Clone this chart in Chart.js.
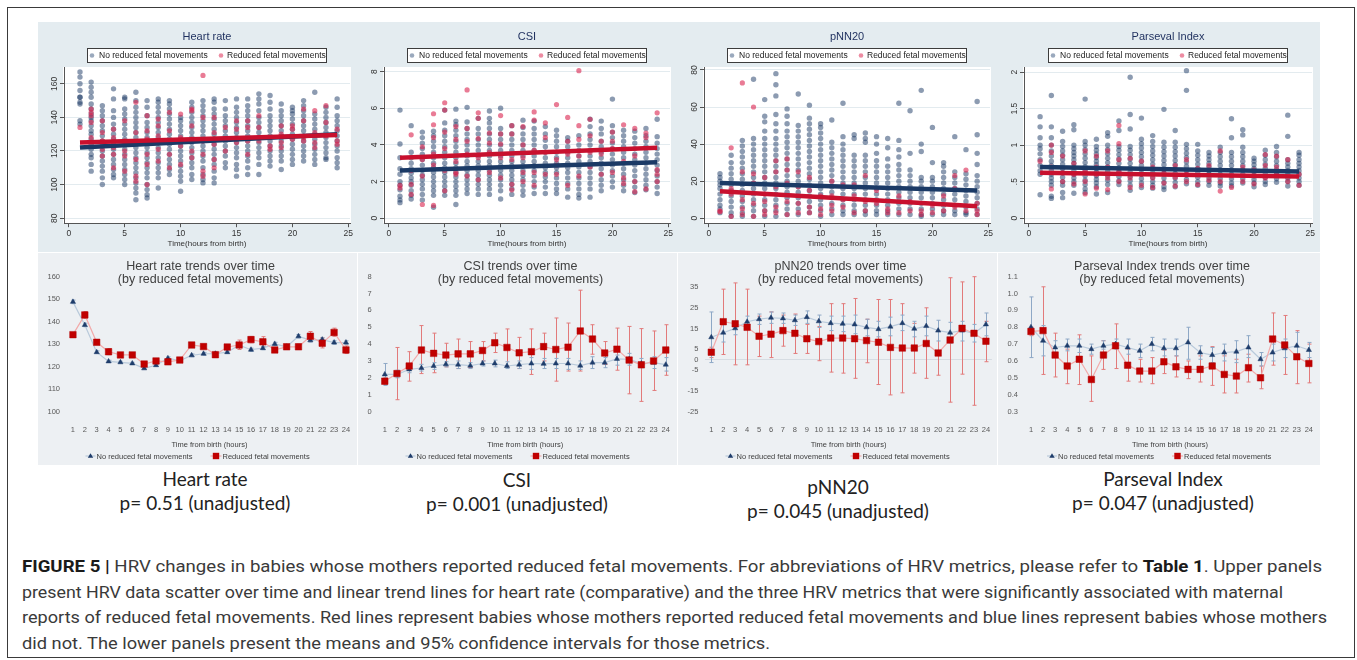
<!DOCTYPE html>
<html>
<head>
<meta charset="utf-8">
<script src="https://cdn.jsdelivr.net/npm/chart.js@4.4.1/dist/chart.umd.min.js"></script>
<style>
  body { margin: 0; width: 1357px; height: 660px; position: relative; overflow: hidden; background: #fff; font-family: 'Liberation Sans', Arial, sans-serif; }
  #frame { position: absolute; left: 7px; top: 7px; width: 1348px; height: 651px; border: 1px solid #3a3a3a; box-sizing: border-box; }
  canvas { position: absolute; }
  .plabel { position: absolute; transform: translateX(-50%); font-family: Lato, 'Open Sans', sans-serif; font-size: 19px; color: #222; text-align: center; white-space: nowrap; line-height: 24px; }
  .cap { position: absolute; left: 22px; font-family: Roboto, 'Liberation Sans', sans-serif; font-size: 17px; color: #3a3a3a; white-space: nowrap; transform-origin: 0 50%; line-height: 20px; }
  .cap b { color: #1a1a1a; }
</style>
</head>
<body>
<div id="frame"></div>

<canvas id="hrTop" width="320" height="230" style="left:38px;top:22px"></canvas>
<canvas id="csiTop" width="320" height="230" style="left:358px;top:22px"></canvas>
<canvas id="pnnTop" width="320" height="230" style="left:678px;top:22px"></canvas>
<canvas id="parTop" width="322" height="230" style="left:998px;top:22px"></canvas>

<canvas id="hrLow" width="319" height="212" style="left:38px;top:253px"></canvas>
<canvas id="csiLow" width="319" height="212" style="left:358px;top:253px"></canvas>
<canvas id="pnnLow" width="319" height="212" style="left:678px;top:253px"></canvas>
<canvas id="parLow" width="322" height="212" style="left:998px;top:253px"></canvas>

<div class="plabel" style="left:205px;top:467px">Heart rate<br>p= 0.51 (unadjusted)</div>
<div class="plabel" style="left:517px;top:468px">CSI<br>p= 0.001 (unadjusted)</div>
<div class="plabel" style="left:838px;top:475px">pNN20<br>p= 0.045 (unadjusted)</div>
<div class="plabel" style="left:1163px;top:467px">Parseval Index<br>p= 0.047 (unadjusted)</div>

<div class="cap" data-w="1300" style="top:556px"><b>FIGURE 5 |</b> HRV changes in babies whose mothers reported reduced fetal movements. For abbreviations of HRV metrics, please refer to <b>Table 1</b>. Upper panels</div>
<div class="cap" data-w="1261" style="top:582px">present HRV data scatter over time and linear trend lines for heart rate (comparative) and the three HRV metrics that were significantly associated with maternal</div>
<div class="cap" data-w="1305" style="top:607px">reports of reduced fetal movements. Red lines represent babies whose mothers reported reduced fetal movements and blue lines represent babies whose mothers</div>
<div class="cap" data-w="748" style="top:633px">did not. The lower panels present the means and 95% confidence intervals for those metrics.</div>

<script>
// ---------- shared ----------
const hours = [1, 2, 3, 4, 5, 6, 7, 8, 9, 10, 11, 12, 13, 14, 15, 16, 17, 18, 19, 20, 21, 22, 23, 24];
const fitHours = [1, 24];
const xTicksTop = [0, 5, 10, 15, 20, 25];

// ---------- upper panels: per-hour scatter values ----------
const hrTicks = [80, 100, 120, 140, 160];
const hrTickLabels = ['80', '100', '120', '140', '160'];
const hrBlue = [
  [167, 164, 160, 156, 152, 152, 149, 148, 138, 136],
  [161, 158, 155, 152, 148, 145, 142, 140, 138, 135, 132, 130, 127, 124, 121, 118, 116, 112, 108],
  [147, 144, 141, 138, 135, 132, 129, 126, 123, 120, 117, 114, 111, 108, 104, 100],
  [157, 151, 144, 140, 136, 133, 130, 127, 124, 121, 118, 115, 112, 109, 106, 104],
  [152, 151, 145, 142, 139, 136, 133, 130, 127, 124, 121, 118, 115, 112, 109, 106, 103, 100],
  [155, 150, 146, 143, 140, 137, 134, 131, 128, 125, 122, 119, 116, 113, 110, 107, 104, 101, 98, 95, 91],
  [150, 146, 141, 137, 134, 131, 128, 125, 122, 119, 116, 113, 110, 107, 104, 100, 97, 94, 92],
  [151, 149, 146, 143, 140, 137, 134, 131, 128, 125, 122, 119, 116, 113, 110, 107, 104, 98],
  [150, 148, 145, 142, 139, 136, 133, 130, 127, 124, 121, 118, 115, 112, 109, 106],
  [140, 138, 135, 132, 129, 126, 123, 120, 117, 114, 111, 108, 105, 102, 96],
  [149, 146, 143, 140, 137, 134, 131, 128, 125, 122, 119, 116, 113, 110, 106, 103],
  [150, 147, 144, 141, 138, 135, 132, 129, 126, 123, 120, 117, 114, 110, 106, 103, 101],
  [151, 149, 145, 142, 139, 136, 133, 130, 127, 124, 121, 118, 115, 112, 108, 104, 101],
  [150, 145, 141, 138, 135, 132, 129, 126, 123, 120, 117, 113, 110],
  [151, 146, 143, 140, 137, 134, 131, 128, 125, 122, 119, 116, 112, 109, 105],
  [151, 147, 144, 141, 138, 135, 132, 129, 126, 123, 120, 117, 114, 110, 106],
  [154, 151, 148, 144, 140, 137, 134, 131, 128, 125, 122, 119, 116, 112, 106],
  [153, 149, 145, 141, 138, 135, 132, 129, 126, 123, 120, 117, 114, 111],
  [148, 144, 141, 138, 135, 132, 129, 126, 123, 120, 117, 114, 109],
  [146, 144, 142, 139, 136, 133, 130, 127, 124, 121, 118, 115, 112],
  [150, 147, 144, 141, 138, 135, 132, 129, 126, 123, 120, 117, 114],
  [155, 142, 139, 136, 133, 130, 127, 124, 121, 118, 115, 112],
  [146, 143, 140, 137, 134, 131, 128, 125, 122, 119, 116, 115],
  [151, 146, 141, 138, 135, 132, 129, 126, 123, 120, 116, 113, 110]
];
const hrRed = [
  [134], [145, 143, 141, 137, 128], [138, 131, 126, 121, 117], [133, 128, 122, 118, 110],
  [138, 126, 120, 117, 108], [149, 131, 125, 115, 105, 102], [141, 132, 127, 118, 112, 100],
  [139, 135, 129, 121, 114], [143, 132, 126, 118, 110], [142, 128, 123, 112],
  [145, 144, 135, 127, 120, 116], [165, 140, 126, 118, 108, 105], [140, 131, 124, 115, 110],
  [134, 127, 120], [138, 133, 125], [138, 134, 126, 118], [141, 134, 126], [128, 123, 121],
  [135, 130, 125, 122], [135, 133, 127], [145, 138, 128, 126], [144, 131, 125, 122],
  [147, 137, 129], [133, 126, 124]
];
const hrFitBlue = [122, 130];
const hrFitRed = [125, 129.5];

const csiTicks = [0, 2, 4, 6, 8];
const csiTickLabels = ['0', '2', '4', '6', '8'];
const csiBlue = [
  [5.9, 4.05, 3.3, 2.7, 2.4, 2.0, 1.8, 1.55, 1.2, 1.0, 0.85],
  [5.05, 3.6, 3.3, 3.0, 2.7, 2.45, 2.2, 2.0, 1.8, 1.5, 1.25, 1.05],
  [4.7, 4.4, 4.1, 3.8, 3.5, 3.2, 2.9, 2.6, 2.35, 2.1, 1.85, 1.6, 1.3, 1.0],
  [4.75, 4.5, 4.2, 3.9, 3.6, 3.3, 3.0, 2.75, 2.5, 2.25, 2.0, 1.75, 1.5, 1.25, 0.6],
  [5.9, 5.2, 4.8, 4.5, 4.2, 3.9, 3.6, 3.3, 3.0, 2.75, 2.5, 2.25, 2.0, 1.75, 1.5, 1.25],
  [5.95, 5.3, 5.1, 4.8, 4.5, 4.2, 3.9, 3.6, 3.3, 3.0, 2.75, 2.5, 2.25, 2.0, 1.75, 1.5, 1.25, 0.75],
  [6.05, 5.25, 4.9, 4.6, 4.3, 4.0, 3.7, 3.4, 3.1, 2.85, 2.6, 2.35, 2.1, 1.85, 1.6, 1.35],
  [5.45, 4.9, 4.6, 4.3, 4.0, 3.7, 3.4, 3.1, 2.85, 2.6, 2.35, 2.1, 1.85, 1.6, 1.3],
  [5.85, 5.45, 5.2, 4.9, 4.6, 4.3, 4.0, 3.7, 3.4, 3.1, 2.85, 2.6, 2.35, 2.1, 1.85, 1.6, 1.3],
  [6.0, 4.9, 4.6, 4.3, 4.0, 3.7, 3.4, 3.1, 2.85, 2.6, 2.35, 2.1, 1.8, 1.5, 1.05],
  [5.05, 4.6, 4.3, 4.0, 3.7, 3.4, 3.1, 2.85, 2.6, 2.35, 2.1, 1.85, 1.6, 1.3],
  [5.35, 4.95, 4.6, 4.3, 4.0, 3.7, 3.4, 3.1, 2.85, 2.6, 2.35, 2.1, 1.8, 1.5, 1.25],
  [5.3, 4.9, 4.6, 4.3, 4.0, 3.7, 3.4, 3.1, 2.85, 2.6, 2.3, 2.0, 1.7, 1.35],
  [5.0, 4.6, 4.25, 3.9, 3.6, 3.3, 3.0, 2.75, 2.5, 2.25, 2.0, 1.7, 1.35],
  [4.8, 4.5, 4.2, 3.9, 3.6, 3.3, 3.0, 2.75, 2.5, 2.2, 1.9, 1.6, 1.35],
  [4.4, 4.2, 3.9, 3.6, 3.3, 3.0, 2.75, 2.5, 2.2, 1.9, 1.6, 1.15],
  [4.5, 4.0, 3.7, 3.4, 3.1, 2.8, 2.5, 2.2, 1.9, 1.6, 1.3, 1.1],
  [5.4, 5.0, 4.6, 4.3, 4.0, 3.7, 3.4, 3.1, 2.8, 2.5, 2.2, 1.9, 1.6, 1.15],
  [5.3, 4.9, 4.6, 4.2, 3.9, 3.6, 3.3, 3.0, 2.7, 2.4, 2.1, 1.8, 1.5],
  [6.5, 5.05, 4.7, 4.4, 4.1, 3.8, 3.5, 3.2, 2.9, 2.6, 2.3, 2.0, 1.7],
  [4.8, 4.5, 4.2, 3.9, 3.6, 3.3, 3.0, 2.7, 2.4, 2.1, 1.8, 1.5],
  [4.75, 4.4, 4.1, 3.8, 3.5, 3.2, 2.9, 2.6, 2.3, 2.0, 1.7, 1.4],
  [4.9, 4.5, 4.2, 3.9, 3.6, 3.3, 3.0, 2.7, 2.4, 2.1, 1.8, 1.55],
  [5.4, 4.45, 4.1, 3.8, 3.5, 3.2, 2.9, 2.6, 2.3, 2.0, 1.7, 1.35]
];
const csiRed = [
  [1.8, 1.65], [4.55, 2.6, 1.85, 1.3], [3.9, 3.2, 2.3, 0.75], [5.7, 5.1, 4.4, 3.5, 2.9, 0.7],
  [6.3, 5.9, 4.7, 3.8, 2.6, 1.5], [5.0, 4.3, 3.1, 2.5, 2.4], [7.0, 4.9, 4.2, 3.5, 2.3],
  [5.75, 5.45, 4.35, 3.3, 2.1], [4.65, 4.1, 3.6, 2.5], [5.6, 4.6, 4.05, 3.3, 2.2],
  [5.05, 4.6, 3.2, 1.85, 1.55], [5.0, 4.0, 3.3, 2.5, 2.0], [5.8, 5.35, 3.7, 2.5, 1.8],
  [5.2, 4.4, 3.6, 2.4], [6.2, 3.2, 2.9, 2.4], [5.5, 4.2, 3.5, 1.8], [8.05, 5.05, 4.3, 3.4, 2.3],
  [5.4, 4.5, 3.6, 2.8], [4.2, 3.5, 2.4], [4.7, 4.2, 3.8, 2.5], [5.1, 3.1, 2.2, 1.9],
  [4.9, 3.4, 2.0, 1.45], [4.65, 4.4, 1.6], [5.75, 2.65, 2.4, 2.0]
];
const csiFitBlue = [2.6, 3.05];
const csiFitRed = [3.3, 3.85];

const pnnTicks = [0, 20, 40, 60, 80];
const pnnTickLabels = ['0', '20', '40', '60', '80'];
const pnnBlue = [
  [24, 22, 20, 18, 16, 13, 10, 7, 5, 3],
  [34, 30, 27, 24, 21, 18, 15, 12, 9, 6, 3, 1],
  [42, 39, 36, 33, 30, 27, 24, 21, 18, 15, 12, 9, 6, 3, 1],
  [75, 43, 40, 37, 34, 31, 28, 25, 22, 19, 16, 13, 10, 7, 4, 1],
  [64, 55, 52, 47, 43, 40, 37, 34, 31, 28, 25, 22, 19, 16, 13, 10, 7, 4, 1],
  [78, 72, 66, 56, 51, 47, 43, 40, 37, 34, 31, 28, 25, 22, 19, 16, 13, 10, 7, 4, 1],
  [59, 55, 51, 47, 44, 41, 38, 35, 32, 29, 26, 23, 20, 17, 14, 11, 8, 5, 2],
  [67, 50, 47, 44, 41, 38, 35, 32, 29, 26, 23, 20, 17, 14, 11, 8, 5, 2],
  [61, 54, 51, 48, 45, 42, 39, 36, 33, 30, 27, 24, 21, 18, 15, 12, 9, 6, 3],
  [51, 49, 46, 43, 40, 37, 34, 31, 28, 25, 22, 19, 16, 13, 10, 7, 4, 1],
  [53, 41, 38, 35, 32, 29, 26, 23, 20, 17, 14, 11, 8, 5, 2],
  [62, 44, 40, 37, 34, 31, 28, 25, 22, 19, 16, 13, 10, 7, 4, 2],
  [45, 43, 34, 31, 28, 25, 22, 19, 16, 13, 10, 7, 4, 2],
  [46, 43, 41, 34, 31, 28, 25, 22, 19, 16, 13, 10, 7, 4, 2],
  [44, 40, 35, 31, 28, 25, 22, 19, 16, 13, 10, 7, 4, 2],
  [43, 38, 32, 28, 25, 22, 19, 16, 13, 10, 7, 4, 2],
  [62, 42, 37, 33, 29, 26, 23, 20, 17, 14, 11, 8, 5, 2],
  [58, 35, 26, 23, 20, 17, 14, 11, 8, 5, 2],
  [69, 40, 36, 22, 20, 17, 14, 11, 8, 5, 2, 1],
  [49, 30, 22, 20, 17, 14, 11, 8, 5, 2],
  [30, 28, 25, 22, 19, 16, 13, 10, 7, 4, 2],
  [44, 25, 22, 19, 16, 13, 10, 7, 4, 2],
  [37, 24, 21, 18, 15, 12, 9, 6, 3, 2],
  [63, 45, 35, 29, 23, 20, 17, 14, 11, 8, 5, 2]
];
const pnnRed = [
  [3.5, 4], [38, 16, 13, 1], [73, 25, 10, 5, 2], [60, 24, 19, 8, 1], [22, 13, 9, 4, 2],
  [31, 25, 17, 6, 3], [32, 26, 19, 9, 2], [25, 17, 8, 3], [22, 15, 6, 3], [12, 5, 2],
  [20, 12, 7, 4], [18, 10, 6], [18, 12, 3], [23, 9, 4], [15, 8], [5, 3], [12, 3], [9, 4],
  [4, 2], [7, 3], [12, 4], [23, 16, 6], [26, 4], [8, 4, 2]
];
const pnnFitBlue = [19, 15];
const pnnFitRed = [14.5, 6.5];

const parTicks = [0, 0.5, 1, 1.5, 2];
const parTickLabels = ['0', '.5', '1', '1.5', '2'];
const parBlue = [
  [1.39, 1.25, 1.1, 1.0, 0.95, 0.88, 0.8, 0.72, 0.65, 0.6, 0.32],
  [1.68, 1.25, 1.1, 1.0, 0.92, 0.85, 0.78, 0.72, 0.66, 0.6, 0.55, 0.5, 0.45, 0.3, 0.27],
  [1.19, 1.05, 0.98, 0.92, 0.86, 0.8, 0.74, 0.68, 0.62, 0.56, 0.5, 0.45, 0.35, 0.28],
  [1.28, 1.21, 1.0, 0.95, 0.9, 0.85, 0.8, 0.75, 0.7, 0.65, 0.6, 0.55, 0.5, 0.45, 0.34],
  [1.63, 1.05, 1.0, 0.94, 0.88, 0.82, 0.76, 0.7, 0.64, 0.58, 0.52, 0.46, 0.4, 0.35],
  [1.08, 0.98, 0.93, 0.88, 0.83, 0.78, 0.73, 0.68, 0.63, 0.58, 0.53, 0.48, 0.43, 0.33],
  [1.17, 1.12, 1.0, 0.94, 0.88, 0.82, 0.76, 0.7, 0.64, 0.58, 0.52, 0.46, 0.35],
  [1.33, 1.2, 0.98, 0.93, 0.87, 0.81, 0.75, 0.69, 0.63, 0.57, 0.51, 0.46],
  [1.93, 1.42, 1.22, 0.98, 0.93, 0.87, 0.81, 0.75, 0.69, 0.63, 0.57, 0.51, 0.45, 0.38],
  [1.37, 1.08, 1.02, 0.96, 0.9, 0.84, 0.78, 0.72, 0.66, 0.6, 0.54, 0.48, 0.42],
  [1.13, 1.05, 0.98, 0.92, 0.86, 0.8, 0.74, 0.68, 0.62, 0.56, 0.5, 0.45, 0.41],
  [1.49, 1.04, 0.97, 0.91, 0.85, 0.79, 0.73, 0.67, 0.61, 0.55, 0.49, 0.43, 0.39],
  [1.2, 1.04, 0.97, 0.91, 0.85, 0.79, 0.73, 0.67, 0.61, 0.55, 0.49, 0.43],
  [2.02, 1.75, 1.01, 0.95, 0.89, 0.83, 0.77, 0.71, 0.65, 0.59, 0.53, 0.47],
  [1.01, 0.92, 0.86, 0.8, 0.74, 0.68, 0.62, 0.56, 0.5, 0.45],
  [0.9, 0.85, 0.8, 0.75, 0.7, 0.65, 0.6, 0.55, 0.5, 0.45],
  [0.97, 0.9, 0.84, 0.78, 0.72, 0.66, 0.6, 0.54, 0.48, 0.44],
  [1.36, 1.1, 0.9, 0.84, 0.78, 0.72, 0.66, 0.6, 0.54, 0.48, 0.44],
  [1.21, 1.14, 0.97, 0.9, 0.84, 0.78, 0.72, 0.66, 0.6, 0.54, 0.48],
  [0.82, 0.78, 0.73, 0.68, 0.63, 0.58, 0.53, 0.48, 0.43],
  [0.93, 0.86, 0.8, 0.74, 0.68, 0.62, 0.56, 0.5, 0.46],
  [0.98, 0.9, 0.84, 0.78, 0.72, 0.66, 0.6, 0.54, 0.49],
  [1.41, 1.12, 0.8, 0.75, 0.7, 0.65, 0.6, 0.55, 0.5, 0.44],
  [0.9, 0.86, 0.8, 0.75, 0.7, 0.65, 0.6, 0.55, 0.5, 0.45]
];
const parRed = [
  [0.78], [1.0, 0.9, 0.7, 0.4], [0.85, 0.62, 0.5], [0.75, 0.6, 0.47], [0.92, 0.65, 0.5, 0.33],
  [0.85, 0.7, 0.6, 0.41], [0.92, 0.7, 0.55, 0.39], [1.27, 1.02, 0.8, 0.65, 0.5], [0.82, 0.55, 0.42],
  [0.78, 0.6, 0.45], [0.7, 0.55, 0.42], [0.66, 0.48], [0.72, 0.56, 0.44], [0.8, 0.6, 0.5],
  [0.68, 0.46], [0.72, 0.52], [0.92, 0.5, 0.37], [0.58, 0.42], [0.7, 0.5], [0.66, 0.47],
  [0.87, 0.72, 0.55], [0.85, 0.7, 0.6], [0.8, 0.5], [0.6, 0.45]
];
const parFitBlue = [0.70, 0.64];
const parFitRed = [0.62, 0.57];

// ---------- lower panels: hourly means and 95% CI ----------
const hrLowTicks = [100, 110, 120, 130, 140, 150, 160];
const hrMeanNo = [148.8, 138.5, 126.4, 122.3, 121.9, 121.4, 119.2, 120.6, 123.7, 122.6, 125.0, 125.7, 125.7, 126.4, 129.5, 127.5, 128.2, 130.1, 128.8, 133.5, 131.7, 132.0, 130.7, 130.7];
const hrLoNo = [148.0, 137.7, 125.8, 121.8, 121.4, 120.9, 118.7, 120.1, 123.1, 122.0, 124.4, 125.1, 125.1, 125.8, 128.8, 126.8, 127.5, 129.4, 128.1, 132.7, 130.9, 131.2, 129.9, 129.9];
const hrHiNo = [149.6, 139.3, 127.0, 122.8, 122.4, 121.9, 119.7, 121.1, 124.3, 123.2, 125.6, 126.3, 126.3, 127.0, 130.2, 128.2, 128.9, 130.8, 129.5, 134.3, 132.5, 132.8, 131.5, 131.5];
const hrMeanRfm = [134.2, 143.0, 130.8, 126.6, 125.2, 125.2, 121.1, 122.5, 122.1, 122.9, 129.6, 128.9, 125.3, 128.7, 129.6, 132.0, 131.0, 127.4, 128.8, 128.8, 133.5, 130.4, 135.2, 127.4];
const hrLoRfm = [133.6, 141.5, 129.8, 125.3, 124.2, 124.3, 120.2, 121.6, 121.2, 122.0, 128.6, 128.0, 124.0, 127.6, 127.6, 130.6, 128.9, 126.5, 127.9, 127.6, 131.4, 128.3, 133.5, 125.8];
const hrHiRfm = [134.8, 144.5, 131.8, 128.0, 126.2, 126.1, 122.0, 123.4, 123.0, 123.8, 130.6, 129.8, 126.6, 129.8, 131.8, 133.4, 133.3, 128.3, 129.7, 130.0, 135.6, 132.8, 137.1, 129.2];

const csiLowTicks = [0, 1, 2, 3, 4, 5, 6, 7, 8];
const csiMeanNo = [2.2, 2.2, 2.5, 2.58, 2.7, 2.8, 2.78, 2.72, 2.85, 2.85, 2.7, 2.78, 2.85, 2.83, 2.85, 2.85, 2.72, 2.9, 2.9, 3.12, 3.1, 2.85, 2.9, 2.78];
const csiLoNo = [1.55, 2.0, 2.3, 2.4, 2.5, 2.65, 2.55, 2.55, 2.7, 2.65, 2.55, 2.55, 2.5, 2.55, 2.55, 2.5, 2.5, 2.55, 2.6, 2.75, 2.75, 2.6, 2.55, 2.4];
const csiHiNo = [2.85, 2.45, 2.7, 2.8, 2.9, 2.95, 3.0, 2.9, 3.0, 3.05, 2.95, 3.0, 3.2, 3.15, 3.15, 3.15, 3.0, 3.25, 3.2, 3.35, 3.45, 3.15, 3.25, 3.2];
const csiMeanRfm = [1.8, 2.25, 2.7, 3.65, 3.45, 3.35, 3.42, 3.42, 3.62, 4.08, 3.8, 3.48, 3.55, 3.85, 3.68, 3.82, 4.78, 4.3, 3.47, 3.7, 3.05, 2.77, 3.0, 3.65];
const csiLoRfm = [1.6, 0.7, 1.8, 2.25, 2.3, 2.65, 2.55, 2.6, 3.0, 3.5, 2.7, 2.55, 2.2, 3.0, 1.8, 2.4, 2.4, 3.4, 2.8, 2.45, 1.05, 0.6, 1.25, 2.15];
const csiHiRfm = [2.0, 3.8, 3.55, 5.1, 4.65, 4.05, 4.3, 4.15, 4.15, 4.65, 4.9, 4.4, 4.9, 4.65, 5.55, 5.25, 7.2, 5.15, 4.15, 4.95, 5.05, 4.92, 4.78, 5.15];

const pnnLowTicks = [-25, -15, -5, 5, 15, 25, 35];
const pnnMeanNo = [10.8, 13.0, 15.1, 18.3, 19.5, 20.2, 19.9, 19.0, 20.5, 18.5, 17.6, 17.3, 17.0, 15.6, 14.7, 15.9, 17.6, 14.9, 16.2, 14.0, 13.0, 14.0, 12.7, 17.0];
const pnnLoNo = [-1.4, 8.5, 12.0, 15.5, 17.0, 17.5, 17.5, 16.5, 17.5, 15.5, 14.0, 13.5, 12.5, 11.5, 11.0, 11.5, 14.0, 11.0, 11.5, 9.0, 8.0, 9.0, 8.5, 11.5];
const pnnHiNo = [23.0, 17.5, 18.5, 21.0, 22.0, 23.0, 22.5, 21.5, 23.5, 21.5, 21.0, 21.0, 21.5, 19.5, 18.5, 20.5, 21.5, 18.5, 21.0, 19.0, 18.0, 18.5, 17.0, 22.5];
const pnnMeanRfm = [3.6, 18.3, 17.3, 15.6, 11.3, 12.3, 14.0, 12.7, 10.1, 8.7, 10.4, 10.4, 10.1, 9.2, 8.4, 5.9, 5.6, 5.6, 7.8, 3.2, 9.5, 15.1, 12.7, 8.9];
const pnnLoRfm = [1.0, 2.5, -2.5, -2.5, 1.5, 1.0, 6.5, 3.0, 3.0, -0.5, -6.0, -6.5, -9.0, -1.5, -12.0, -17.0, -16.0, -6.5, -9.0, -7.5, -20.5, -7.0, -22.0, -1.0];
const pnnHiRfm = [6.0, 34.0, 37.0, 34.0, 21.0, 23.0, 21.5, 22.0, 17.0, 16.0, 27.0, 27.0, 29.5, 19.5, 29.0, 29.0, 27.0, 17.5, 25.0, 14.0, 39.5, 37.5, 40.0, 18.5];

const parLowTicks = [0.3, 0.4, 0.5, 0.6, 0.7, 0.8, 0.9, 1, 1.1];
const parMeanNo = [0.80, 0.72, 0.68, 0.69, 0.69, 0.67, 0.69, 0.70, 0.68, 0.66, 0.70, 0.675, 0.675, 0.71, 0.65, 0.635, 0.65, 0.655, 0.68, 0.61, 0.65, 0.675, 0.69, 0.665];
const parLoNo = [0.62, 0.63, 0.63, 0.66, 0.65, 0.64, 0.67, 0.67, 0.64, 0.62, 0.66, 0.63, 0.63, 0.61, 0.61, 0.59, 0.60, 0.59, 0.62, 0.57, 0.60, 0.62, 0.61, 0.62];
const parHiNo = [0.98, 0.81, 0.72, 0.73, 0.73, 0.70, 0.72, 0.73, 0.73, 0.70, 0.74, 0.73, 0.73, 0.80, 0.69, 0.68, 0.70, 0.72, 0.75, 0.65, 0.70, 0.73, 0.77, 0.71];
const parMeanRfm = [0.775, 0.78, 0.635, 0.57, 0.61, 0.49, 0.635, 0.69, 0.575, 0.54, 0.54, 0.595, 0.565, 0.55, 0.55, 0.57, 0.52, 0.51, 0.56, 0.50, 0.73, 0.695, 0.625, 0.585];
const parLoRfm = [0.75, 0.52, 0.505, 0.465, 0.46, 0.36, 0.55, 0.555, 0.48, 0.475, 0.465, 0.525, 0.505, 0.495, 0.475, 0.455, 0.41, 0.41, 0.475, 0.435, 0.575, 0.52, 0.465, 0.47];
const parHiRfm = [0.80, 1.04, 0.765, 0.67, 0.755, 0.63, 0.72, 0.82, 0.67, 0.61, 0.62, 0.665, 0.63, 0.60, 0.63, 0.685, 0.63, 0.61, 0.64, 0.57, 0.885, 0.87, 0.78, 0.70];

Chart.defaults.font.family = "'Liberation Sans', Arial, sans-serif";
Chart.defaults.animation = false;
Chart.defaults.events = [];

const FONT = "'Liberation Sans', Arial, sans-serif";

// Stata-like frame: panel background, white plot region, title, boxed legend, rotated y labels
const stataFrame = {
  id: 'stataFrame',
  beforeDraw(chart) {
    const { ctx, chartArea: a, width, height } = chart;
    ctx.save();
    ctx.fillStyle = '#e4ecf0';
    ctx.fillRect(0, 0, width, height);
    ctx.fillStyle = '#ffffff';
    ctx.fillRect(a.left - 1, a.top, a.right - a.left + 2, a.bottom - a.top);
    ctx.restore();
  },
  afterDraw(chart, args, opts) {
    const { ctx, chartArea: a } = chart;
    const cx = (a.left + a.right) / 2;
    ctx.save();
    ctx.fillStyle = '#1e2f5e';
    ctx.font = '11px ' + FONT;
    ctx.textAlign = 'center';
    ctx.textBaseline = 'middle';
    ctx.fillText(opts.title, cx, 15);

    // legend box
    ctx.fillStyle = '#ffffff';
    ctx.fillRect(cx - 120, 26, 239, 14);
    ctx.strokeStyle = '#3c3c3c';
    ctx.lineWidth = 1;
    ctx.strokeRect(cx - 120 + 0.5, 26.5, 239, 14);
    ctx.fillStyle = 'rgba(32,64,108,0.45)';
    ctx.beginPath(); ctx.arc(cx - 115, 33.5, 2.3, 0, Math.PI * 2); ctx.fill();
    ctx.fillStyle = 'rgba(222,45,85,0.55)';
    ctx.beginPath(); ctx.arc(cx + 14, 33.5, 2.3, 0, Math.PI * 2); ctx.fill();
    ctx.fillStyle = '#222';
    ctx.font = '8.5px ' + FONT;
    ctx.textAlign = 'left';
    ctx.fillText('No reduced fetal movements', cx - 108, 34);
    ctx.fillText('Reduced fetal movements', cx + 20, 34);

    // rotated y tick labels
    const y = chart.scales.y;
    ctx.fillStyle = '#333';
    ctx.textAlign = 'center';
    y.ticks.forEach((t, i) => {
      ctx.save();
      ctx.translate(a.left - 9, y.getPixelForValue(t.value));
      ctx.rotate(-Math.PI / 2);
      ctx.fillText(opts.labels[i], 0, 0);
      ctx.restore();
    });
    ctx.restore();
  }
};

// Excel-like frame: background, two-line title, legend, CI bars
const excelFrame = {
  id: 'excelFrame',
  beforeDraw(chart) {
    const { ctx, width, height } = chart;
    ctx.save();
    ctx.fillStyle = '#edf0f3';
    ctx.fillRect(0, 0, width, height);
    ctx.restore();
  },
  beforeDatasetsDraw(chart) {
    const { ctx } = chart;
    const y = chart.scales.y;
    ctx.save();
    chart.data.datasets.forEach((ds, di) => {
      const meta = chart.getDatasetMeta(di);
      ctx.strokeStyle = ds.errColor;
      ctx.lineWidth = 1;
      meta.data.forEach((pt, i) => {
        const x = Math.round(pt.x) + 0.5;
        const y1 = y.getPixelForValue(ds.errLo[i]);
        const y2 = y.getPixelForValue(ds.errHi[i]);
        ctx.beginPath();
        ctx.moveTo(x, y1); ctx.lineTo(x, y2);
        ctx.moveTo(x - 2, y1); ctx.lineTo(x + 2, y1);
        ctx.moveTo(x - 2, y2); ctx.lineTo(x + 2, y2);
        ctx.stroke();
      });
    });
    ctx.restore();
  },
  afterDraw(chart, args, opts) {
    const { ctx, width, height } = chart;
    const cx = width / 2 + 3;
    ctx.save();
    ctx.fillStyle = '#404040';
    ctx.font = '12.5px ' + FONT;
    ctx.textAlign = 'center';
    ctx.textBaseline = 'middle';
    ctx.fillText(opts.title[0], cx, 14);
    ctx.fillText(opts.title[1], cx, 27);

    const ly = height - 9;
    ctx.strokeStyle = '#b9cadb';
    ctx.lineWidth = 1.2;
    ctx.beginPath(); ctx.moveTo(cx - 115, ly); ctx.lineTo(cx - 105, ly); ctx.stroke();
    ctx.fillStyle = '#1f3d6b';
    ctx.beginPath(); ctx.moveTo(cx - 110, ly - 2.8); ctx.lineTo(cx - 107.3, ly + 1.8); ctx.lineTo(cx - 112.7, ly + 1.8); ctx.closePath(); ctx.fill();
    ctx.strokeStyle = '#f2aaaa';
    ctx.beginPath(); ctx.moveTo(cx + 10, ly); ctx.lineTo(cx + 21, ly); ctx.stroke();
    ctx.fillStyle = '#c00000';
    ctx.fillRect(cx + 12.3, ly - 3.2, 6.4, 6.4);
    ctx.fillStyle = '#404040';
    ctx.font = '7.5px ' + FONT;
    ctx.textAlign = 'left';
    ctx.fillText('No reduced fetal movements', cx - 104, ly + 0.5);
    ctx.fillText('Reduced fetal movements', cx + 22, ly + 0.5);
    ctx.restore();
  }
};

function toPoints(cols) {
  const pts = [];
  cols.forEach((vals, i) => vals.forEach(v => pts.push({ x: hours[i], y: v })));
  return pts;
}
function fitLine(vals) {
  return fitHours.map((h, i) => ({ x: h, y: vals[i] }));
}

function scatterPanel(id, title, blue, red, fitBlue, fitRed, yMin, yMax, yTicks, yLabels) {
  new Chart(document.getElementById(id), {
    type: 'scatter',
    data: {
      datasets: [
        { type: 'line', data: fitLine(fitRed), borderColor: '#c8102e', borderWidth: 4.5, pointRadius: 0, order: 1 },
        { type: 'line', data: fitLine(fitBlue), borderColor: '#1b3a66', borderWidth: 4.5, pointRadius: 0, order: 2 },
        { data: toPoints(red), backgroundColor: 'rgba(218,35,78,0.6)', borderWidth: 0, pointRadius: 2.6, order: 3 },
        { data: toPoints(blue), backgroundColor: 'rgba(26,56,100,0.5)', borderWidth: 0, pointRadius: 2.7, order: 4 }
      ]
    },
    options: {
      responsive: false,
      layout: { padding: { left: 22, top: 45, right: 8, bottom: 3 } },
      plugins: { legend: { display: false }, tooltip: { enabled: false }, stataFrame: { title: title, labels: yLabels } },
      scales: {
        x: {
          type: 'linear', min: -0.43, max: 25.15,
          afterBuildTicks: ax => { ax.ticks = xTicksTop.map(v => ({ value: v })); },
          ticks: { font: { size: 8.5 }, color: '#333', padding: 1, maxRotation: 0 },
          grid: { drawOnChartArea: false, tickLength: 4, tickColor: '#555' },
          border: { color: '#555' },
          title: { display: true, text: 'Time(hours from birth)', font: { size: 8 }, color: '#333', padding: 0 }
        },
        y: {
          min: yMin, max: yMax,
          afterBuildTicks: ax => { ax.ticks = yTicks.map(v => ({ value: v })); },
          ticks: { display: false },
          grid: { color: '#e3ebef', tickLength: 4, tickColor: '#555' },
          border: { color: '#555' }
        }
      }
    },
    plugins: [stataFrame]
  });
}

function trendPanel(id, title, yMin, yMax, yTicks, no, noLo, noHi, rfm, rfmLo, rfmHi, zeroLine) {
  new Chart(document.getElementById(id), {
    type: 'line',
    data: {
      labels: hours,
      datasets: [
        { data: rfm, errLo: rfmLo, errHi: rfmHi, errColor: '#e27a7a', borderColor: '#f2aaaa', borderWidth: 1.2,
          pointStyle: 'rect', pointRadius: 4.6, pointBackgroundColor: '#c00000', pointBorderColor: '#b00000', pointBorderWidth: 0.5, order: 1 },
        { data: no, errLo: noLo, errHi: noHi, errColor: '#8ea8c6', borderColor: '#b9cadb', borderWidth: 1.2,
          pointStyle: 'triangle', pointRadius: 3, pointBackgroundColor: '#1f3d6b', pointBorderColor: '#1f3d6b', pointBorderWidth: 0.5, order: 2 }
      ]
    },
    options: {
      responsive: false,
      layout: { padding: { left: 2.5, top: 23.7, right: 0, bottom: 14.5 } },
      plugins: { legend: { display: false }, tooltip: { enabled: false }, excelFrame: { title: title } },
      scales: {
        x: {
          offset: true,
          grid: { display: false },
          border: { display: false },
          ticks: { font: { size: 7.5 }, color: '#595959', padding: 5.5, autoSkip: false, maxRotation: 0 },
          title: { display: true, text: 'Time from birth (hours)', font: { size: 7.5 }, color: '#404040', padding: { top: 1, bottom: 1 } }
        },
        y: {
          min: yMin, max: yMax,
          afterBuildTicks: ax => { ax.ticks = yTicks.map(v => ({ value: v })); },
          ticks: { font: { size: 7.5 }, color: '#595959', padding: 7 },
          grid: { display: zeroLine, drawTicks: false, color: c => (c.tick && c.tick.value === 0 ? '#d6dce2' : 'rgba(0,0,0,0)') },
          border: { display: false }
        }
      }
    },
    plugins: [excelFrame]
  });
}

scatterPanel('hrTop', 'Heart rate', hrBlue, hrRed, hrFitBlue, hrFitRed, 77, 170, hrTicks, hrTickLabels);
scatterPanel('csiTop', 'CSI', csiBlue, csiRed, csiFitBlue, csiFitRed, -0.27, 8.25, csiTicks, csiTickLabels);
scatterPanel('pnnTop', 'pNN20', pnnBlue, pnnRed, pnnFitBlue, pnnFitRed, -2.7, 81.6, pnnTicks, pnnTickLabels);
scatterPanel('parTop', 'Parseval Index', parBlue, parRed, parFitBlue, parFitRed, -0.07, 2.07, parTicks, parTickLabels);

trendPanel('hrLow', ['Heart rate trends over time', '(by reduced fetal movements)'], 100, 160, hrLowTicks,
  hrMeanNo, hrLoNo, hrHiNo, hrMeanRfm, hrLoRfm, hrHiRfm, false);
trendPanel('csiLow', ['CSI trends over time', '(by reduced fetal movements)'], 0, 8, csiLowTicks,
  csiMeanNo, csiLoNo, csiHiNo, csiMeanRfm, csiLoRfm, csiHiRfm, false);
trendPanel('pnnLow', ['pNN20 trends over time', '(by reduced fetal movements)'], -25, 40, pnnLowTicks.concat([0]),
  pnnMeanNo, pnnLoNo, pnnHiNo, pnnMeanRfm, pnnLoRfm, pnnHiRfm, true);
trendPanel('parLow', ['Parseval Index trends over time', '(by reduced fetal movements)'], 0.3, 1.1, parLowTicks,
  parMeanNo, parLoNo, parHiNo, parMeanRfm, parLoRfm, parHiRfm, false);

// fit each caption line to its length in the reference
document.querySelectorAll('.cap').forEach(el => {
  const s = Number(el.dataset.w) / el.getBoundingClientRect().width;
  el.style.transform = 'scaleX(' + s.toFixed(4) + ')';
});
</script>
</body>
</html>
